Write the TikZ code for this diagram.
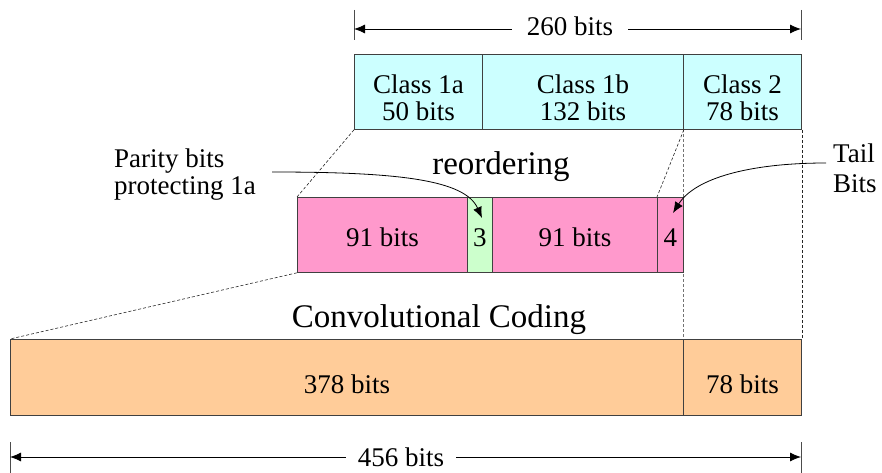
\documentclass[tikz,border=0pt]{standalone}
\usepackage{fontspec}
\setmainfont{Liberation Serif}
\usetikzlibrary{arrows.meta}
\definecolor{cyanc}{HTML}{CCFFFF}
\definecolor{pinkc}{HTML}{FF99CC}
\definecolor{greenc}{HTML}{CCFFCC}
\definecolor{orangec}{HTML}{FFCC99}
\newcommand{\lift}[1]{\rule{0pt}{#1}}
\tikzset{
  cell/.style={draw=black!75, line width=0.8pt, inner sep=0pt, anchor=north west, align=center,
    font=\fontsize{27}{27}\selectfont},
  guide/.style={dashed, dash pattern=on 3pt off 2pt, line width=0.6pt, black!85},
  tick/.style={line width=0.8pt, black!70},
  dim/.style={line width=0.8pt, -{Latex[length=11pt,width=9pt]}},
  lbl/.style={font=\fontsize{27}{27}\selectfont, inner sep=0pt},
  big/.style={font=\fontsize{33}{33}\selectfont, inner sep=0pt},
  pointer/.style={line width=0.8pt, -{Latex[length=11pt,width=9pt]}}
}
\begin{document}
\begin{tikzpicture}[x=1pt,y=-1pt]
\useasboundingbox (0,0) rectangle (882,473);
% guide lines (behind boxes)
\coordinate (v1) at (683,129);
\coordinate (v2) at (683,339);
\draw[guide, black!55] (v1) -- (v2);
% top boxes
\node[cell, fill=cyanc, minimum width=128pt, minimum height=75pt] (a1) at (354,54) {\lift{30pt}Class 1a\\50 bits};
\node[cell, fill=cyanc, minimum width=201pt, minimum height=75pt] (b1) at (482,54) {\lift{30pt}Class 1b\\132 bits};
\node[cell, fill=cyanc, minimum width=118pt, minimum height=75pt] (c2) at (683,54) {\lift{30pt}Class 2\\78 bits};
% middle boxes
\node[cell, fill=pinkc, minimum width=170pt, minimum height=75pt] (m1) at (297,197) {\lift{23pt}91 bits};
\node[cell, fill=greenc, minimum width=25pt, minimum height=75pt] (g3) at (467,197) {\lift{23pt}3};
\node[cell, fill=pinkc, minimum width=165pt, minimum height=75pt] (m2) at (492,197) {\lift{23pt}91 bits};
\node[cell, fill=pinkc, minimum width=26pt, minimum height=75pt] (t4) at (657,197) {\lift{23pt}4};
% bottom boxes
\node[cell, fill=orangec, minimum width=673pt, minimum height=76pt] (o1) at (10,339) {\lift{32pt}378 bits};
\node[cell, fill=orangec, minimum width=118pt, minimum height=76pt] (o2) at (683,339) {\lift{32pt}78 bits};
% dashed guides
\draw[guide] (a1.south west) -- (m1.north west);
\draw[guide] (b1.south east) -- (t4.north west);
\draw[guide] (m1.south west) -- (o1.north west);
\draw[guide] (c2.south east) -- (o2.north east);
% labels
\node[big, anchor=base] (reord) at (501,175) {reordering};
\node[big, anchor=base] (conv) at (439,327) {Convolutional Coding};
\node[lbl, anchor=north west, align=left] (parity) at (114,149) {Parity bits\\protecting 1a};
\node[lbl, anchor=north west, align=left, font=\fontsize{27}{30}\selectfont] (tail) at (833,144) {Tail\\Bits};
% pointer arrows
\coordinate (ps) at (272,172);
\coordinate (pe) at (482,218);
\draw[pointer] (ps) .. controls (400,172) and (465,180) .. (pe);
\coordinate (ts) at (826,163);
\coordinate (te) at (673,213);
\draw[pointer] (ts) .. controls (750,163) and (695,178) .. (te);
% top dimension
\coordinate (tl1) at (354,10); \coordinate (tl2) at (354,40);
\coordinate (tr1) at (801,10); \coordinate (tr2) at (801,40);
\draw[tick] (tl1) -- (tl2);
\draw[tick] (tr1) -- (tr2);
\coordinate (tla) at (354,29); \coordinate (tra) at (801,29);
\node[lbl, anchor=base, inner xsep=15pt] (d260) at (570,36) {260 bits};
\draw[dim] (d260.west |- tla) -- (tla);
\draw[dim] (d260.east |- tra) -- (tra);
% bottom dimension
\coordinate (bl1) at (10,442); \coordinate (bl2) at (10,473);
\coordinate (br1) at (801,442); \coordinate (br2) at (801,473);
\draw[tick] (bl1) -- (bl2);
\draw[tick] (br1) -- (br2);
\coordinate (bla) at (10,457); \coordinate (bra) at (801,457);
\node[lbl, anchor=base, inner xsep=12pt] (d456) at (401,466) {456 bits};
\draw[dim] (d456.west |- bla) -- (bla);
\draw[dim] (d456.east |- bra) -- (bra);
\end{tikzpicture}
\end{document}
